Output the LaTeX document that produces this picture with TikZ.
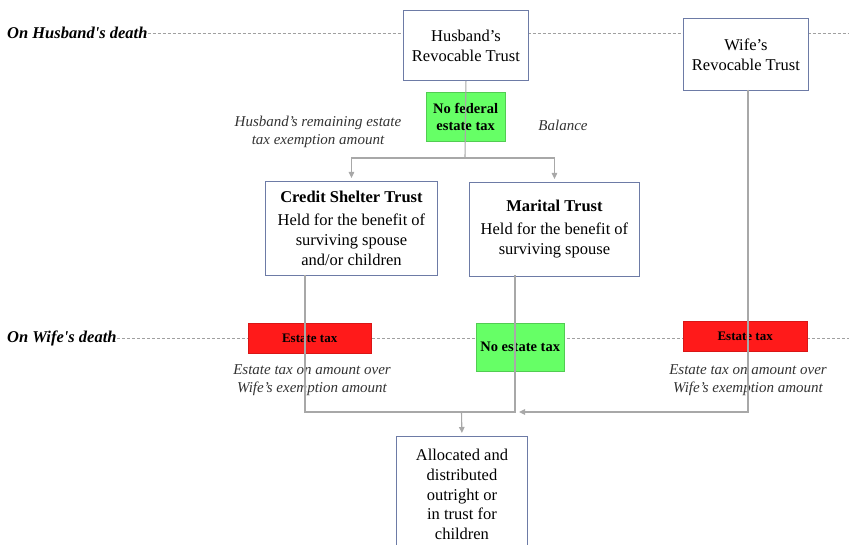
\documentclass[tikz,border=0pt]{standalone}
\usepackage{fontspec}
\setmainfont{Liberation Serif}
\usetikzlibrary{arrows.meta}
\definecolor{boxline}{HTML}{6D7BA6}
\definecolor{conn}{HTML}{A8A8A8}
\definecolor{dashc}{HTML}{A0A0A0}
\definecolor{gbox}{HTML}{66FF66}
\definecolor{rbox}{HTML}{FF1A1A}
\definecolor{lbl}{HTML}{333333}
\begin{document}
\begin{tikzpicture}[x=1pt,y=-1pt,
  trust/.style={draw=boxline, line width=0.9pt, fill=white, align=center, inner sep=0pt, anchor=north west, font=\fontsize{16.5}{20}\selectfont},
  gtag/.style={fill=gbox, draw=gbox!80!black, line width=0.3pt, align=center, inner sep=0pt, anchor=north west, font=\bfseries\fontsize{14.5}{17}\selectfont},
  rtag/.style={fill=rbox, draw=rbox!85!black, line width=0.3pt, align=center, inner sep=0pt, anchor=north west, font=\bfseries\fontsize{13}{15}\selectfont},
  note/.style={align=center, text=lbl, inner sep=0pt, font=\itshape\fontsize{15}{18}\selectfont},
  stage/.style={anchor=west, inner sep=0pt, font=\bfseries\itshape\fontsize{16.5}{17}\selectfont},
  guide/.style={draw=dashc, line width=0.6pt, dash pattern=on 3pt off 2pt},
  link/.style={draw=conn, line width=1.1pt},
  linkarrow/.style={link, -{Triangle[length=6pt,width=5.5pt]}, shorten >=3pt}
]
\useasboundingbox (0,0) rectangle (849,545);

% stage labels and guide lines
\node[stage] (hd) at (7,33) {On Husband\textquotesingle s death};
\node[stage] (wd) at (7,338) {On Wife\textquotesingle s death};
\coordinate (hdend) at (849,33);
\coordinate (wdend) at (849,338);
\draw[guide] (hd.east) -- (hdend);
\draw[guide] (wd.east) -- (wdend);

% trusts
\node[trust, minimum width=125, minimum height=70] (hrt) at (403,10) {Husband’s\\Revocable Trust};
\node[trust, minimum width=125, minimum height=72] (wrt) at (683,18) {Wife’s\\Revocable Trust};
\node[trust, minimum width=172, minimum height=94] (cst) at (265,181) {\textbf{Credit Shelter Trust}\\[3pt]Held for the benefit of\\surviving spouse\\and/or children};
\node[trust, minimum width=170, minimum height=94] (mt) at (469,182) {\textbf{Marital Trust}\\[3pt]Held for the benefit of\\surviving spouse};
\node[trust, minimum width=131, minimum height=116, font=\fontsize{16.5}{19.7}\selectfont] (al) at (396,436) {Allocated and\\distributed\\outright or\\in trust for\\children};

% tax tags
\node[gtag, minimum width=79, minimum height=49] (nft) at (426,92) {No federal\\estate tax};
\node[rtag, minimum width=123, minimum height=30] (et1) at (248,323) {Estate tax};
\node[gtag, minimum width=88, minimum height=48] (net) at (476,323) {No estate tax};
\node[rtag, minimum width=124, minimum height=30] (et2) at (683,321) {Estate tax};

% notes
\node[note] (n1) at (318,132) {Husband’s remaining estate\\tax exemption amount};
\node[note] (n2) at (563,125) {Balance};
\node[note] (n3) at (312,380) {Estate tax on amount over\\Wife’s exemption amount};
\node[note] (n4) at (748,380) {Estate tax on amount over\\Wife’s exemption amount};

% connectors
\coordinate (split) at (465,158);
\draw[link] (hrt.south) -- (split);
\draw[linkarrow] (split) -| (cst.north);
\draw[linkarrow] (split) -| (mt.north);
\coordinate (cstout) at (305,275);
\coordinate (mtout) at (515,275);
\coordinate (join) at (461.5,412);
\coordinate (wjoin) at (516,412);
\draw[link] (cstout) |- (join) -| (mtout);
\draw[linkarrow] (join) -- (al.north);
\coordinate (wout) at (748,90);
\draw[linkarrow] (wout) |- (wjoin);
\end{tikzpicture}
\end{document}
